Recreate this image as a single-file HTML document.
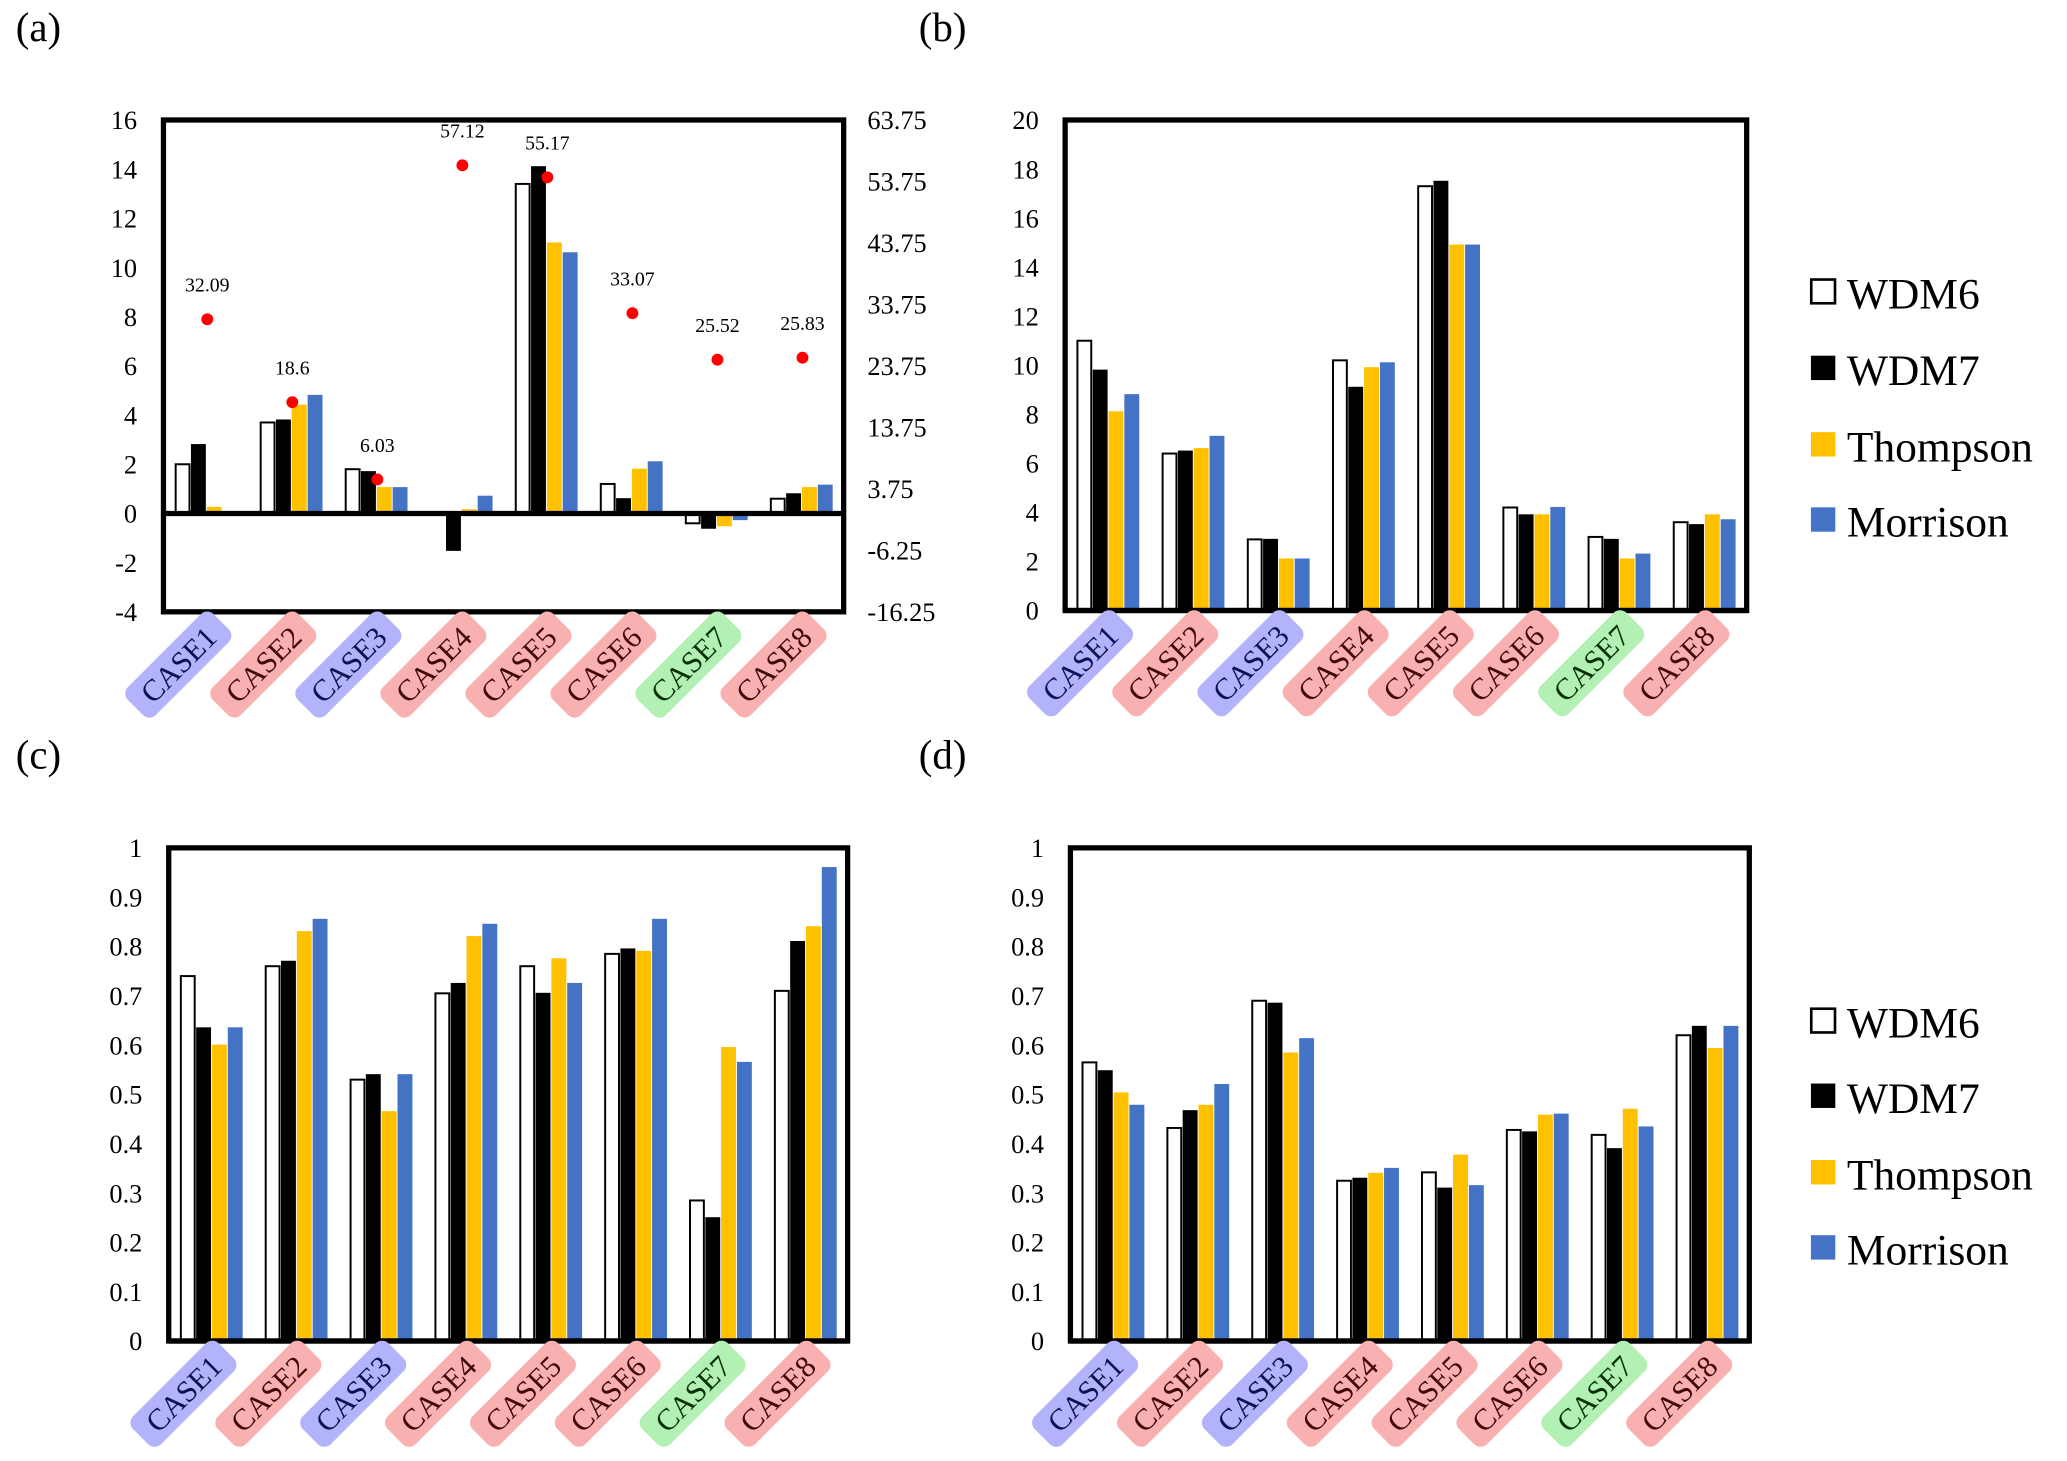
<!DOCTYPE html>
<html><head><meta charset="utf-8">
<style>
html,body{margin:0;padding:0;background:#fff;}
svg{display:block;}
text{font-family:"Liberation Serif",serif;}
</style></head>
<body>
<svg id="chart" width="2067" height="1461" viewBox="0 0 1568 1108" preserveAspectRatio="none" xmlns="http://www.w3.org/2000/svg"></svg>
<script>
const categories = ["CASE1","CASE2","CASE3","CASE4","CASE5","CASE6","CASE7","CASE8"];
const caseTypes = ["b","r","b","r","r","r","g","r"];
const seriesNames = ["WDM6","WDM7","Thompson","Morrison"];
// panel a
const aWDM6 = [2.0,3.7,1.8,0,13.4,1.2,-0.4,0.6];
const aWDM7 = [2.8,3.8,1.7,-1.5,14.1,0.6,-0.6,0.8];
const aThompson = [0.25,4.4,1.05,0.15,11.0,1.8,-0.5,1.05];
const aMorrison = [0,4.8,1.05,0.7,10.6,2.1,-0.25,1.15];
const aDots = [32.09,18.6,6.03,57.12,55.17,33.07,25.52,25.83];
const aLeftTicks = [16,14,12,10,8,6,4,2,0,-2,-4];
const aRightTicks = ["63.75","53.75","43.75","33.75","23.75","13.75","3.75","-6.25","-16.25"];
// panel b
const bWDM6 = [11.0,6.4,2.9,10.2,17.3,4.2,3.0,3.6];
const bWDM7 = [9.8,6.5,2.9,9.1,17.5,3.9,2.9,3.5];
const bThompson = [8.1,6.6,2.1,9.9,14.9,3.9,2.1,3.9];
const bMorrison = [8.8,7.1,2.1,10.1,14.9,4.2,2.3,3.7];
const bTicks = [0,2,4,6,8,10,12,14,16,18,20];
// panel c
const cWDM6 = [0.74,0.76,0.53,0.705,0.76,0.785,0.285,0.71];
const cWDM7 = [0.635,0.77,0.54,0.725,0.705,0.795,0.25,0.81];
const cThompson = [0.60,0.83,0.465,0.82,0.775,0.79,0.595,0.84];
const cMorrison = [0.635,0.855,0.54,0.845,0.725,0.855,0.565,0.96];
// panel d
const dWDM6 = [0.565,0.432,0.69,0.325,0.342,0.428,0.418,0.62];
const dWDM7 = [0.548,0.467,0.685,0.33,0.31,0.424,0.39,0.638];
const dThompson = [0.503,0.478,0.584,0.34,0.377,0.458,0.47,0.593];
const dMorrison = [0.478,0.52,0.613,0.35,0.315,0.46,0.434,0.638];
const fracTicks = ["0","0.1","0.2","0.3","0.4","0.5","0.6","0.7","0.8","0.9","1"];

const NS="http://www.w3.org/2000/svg";
const svg=document.getElementById('chart');
const fills=["#fff","#000","#FFC000","#4472C4"];
const strokes=["#000","#000","#FFC000","#4472C4"];
const tagFill={b:"#b3b3fb",r:"#f9b0b0",g:"#b3f0b3"};
const tagText={b:"#101050",r:"#400808",g:"#083008"};
function mk(tag,attrs,parent){const e=document.createElementNS(NS,tag);for(const k in attrs)e.setAttribute(k,attrs[k]);(parent||svg).appendChild(e);return e;}

function panel(id,letter,lx,box,ymin,ymax,tickVals,tickLabels,series,opts){
  const g=mk('g',{});
  
  
  const [x0,y0,x1,y1]=box;
  const Y=v=>y1-(v-ymin)/(ymax-ymin)*(y1-y0);
  const gw=(x1-x0)/categories.length;
  const X=i=>x0+gw*(i+0.5);
  const lt=mk('text',{x:lx,y:box[1]-60,'font-size':31},g);lt.textContent='('+letter+')';
  
  
  tickVals.forEach((v,k)=>{
    const t=mk('text',{x:x0-20,y:Y(v)+7,'font-size':20,'text-anchor':'end'},g);
    t.textContent=tickLabels[k];
    
    
  });
  series.forEach((arr,s)=>{
    arr.forEach((v,i)=>{
      const bx=X(i)-23+s*12;
      const ya=Y(Math.max(v,0)), yb=Y(Math.min(v,0));
      const r=mk('rect',{x:bx,y:ya,width:10.5,height:Math.max(yb-ya,0.01),fill:fills[s],stroke:strokes[s],'stroke-width':s==0?1.5:0.8},g);
      
      
    });
  });
  const zl=mk('line',{x1:x0,x2:x1,y1:Y(0),y2:Y(0),stroke:'#000','stroke-width':4},g);
  
  
  const fr=mk('rect',{x:x0,y:y0,width:x1-x0,height:y1-y0,fill:'none',stroke:'#000','stroke-width':4},g);
  
  
  categories.forEach((c,i)=>{
    const cx=X(i)-21, cy=y1+40;
    const tg=mk('g',{transform:`translate(${cx},${cy}) rotate(-45)`},g);
    
    
    mk('rect',{x:-46,y:-15,width:92,height:30,rx:7,fill:tagFill[caseTypes[i]]},tg);
    const t=mk('text',{x:0,y:8,'font-size':23,'text-anchor':'middle',fill:tagText[caseTypes[i]]},tg);
    t.textContent=c;
  });
  if(opts&&opts.dots){
    const rY=v=>Y((v-0.5)/4);
    opts.rightTicks.forEach((lab,k)=>{
      const t=mk('text',{x:x1+18,y:y0+k*(y1-y0)/8+7,'font-size':20},g);
      t.textContent=lab;
      
      
    });
    opts.dots.forEach((v,i)=>{
      const c=mk('circle',{cx:X(i)+1,cy:rY(v),r:4.5,fill:'#ff0000'},g);
      
      
      const t=mk('text',{x:X(i)+1,y:rY(v)-21,'font-size':15,'text-anchor':'middle'},g);
      t.textContent=String(v);
      
      
    });
  }
}
function legend(id,x,ys){
  const g=mk('g',{});
  
  
  seriesNames.forEach((n,s)=>{
    const e=mk('g',{},g);
    
    
    mk('rect',{x:x,y:ys[s]-10,width:18,height:18,fill:fills[s],stroke:strokes[s],'stroke-width':s==0?2:0.5},e);
    const t=mk('text',{x:x+27,y:ys[s]+12,'font-size':33},e);t.textContent=n;
  });
}
panel('a','a',12,[124,91,640,464],-4,16,[16,14,12,10,8,6,4,2,0,-2,-4],aLeftTicks.map(String),[aWDM6,aWDM7,aThompson,aMorrison],{dots:aDots,rightTicks:aRightTicks});
panel('b','b',697,[808,91,1325,463],0,20,bTicks,bTicks.map(String),[bWDM6,bWDM7,bThompson,bMorrison]);
const fv=fracTicks.map(Number);
panel('c','c',12,[128,643,643,1017],0,1,fv,fracTicks,[cWDM6,cWDM7,cThompson,cMorrison]);
panel('d','d',697,[812,643,1327,1017],0,1,fv,fracTicks,[dWDM6,dWDM7,dThompson,dMorrison]);
legend('b',1374,[222,280,338,395]);
legend('d',1374,[775,832,890,947]);
</script>
</body></html>
